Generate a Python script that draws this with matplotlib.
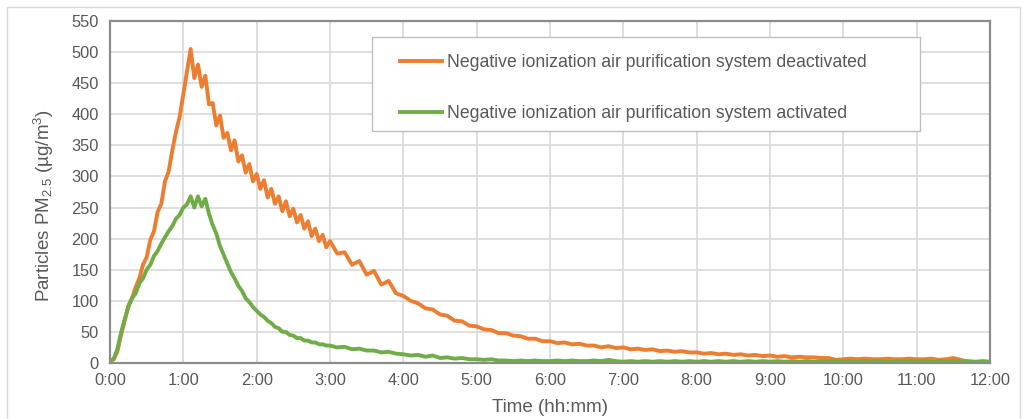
import numpy as np
import matplotlib.pyplot as plt
from matplotlib.patches import Rectangle

plt.rcParams['font.family'] = ['Liberation Sans', 'DejaVu Sans']
plt.rcParams['mathtext.fontset'] = 'custom'
plt.rcParams['mathtext.rm'] = 'Liberation Sans'
plt.rcParams['mathtext.it'] = 'Liberation Sans:italic'

# tiempo en horas: paso de 0.05 h hasta 3:00, luego 0.1 h
t_fine = [round(0.05 * i, 2) for i in range(61)]
t_coarse = [round(3.1 + 0.1 * i, 1) for i in range(90)]

# PM2.5 con el sistema desactivado (naranja)
pm_off_fine = [3, 6, 18, 45, 68, 92, 104, 122, 136, 158, 170, 198, 212, 243, 256,
               292, 308, 342, 372, 396, 432, 468, 505,
               458, 480, 444, 462, 416, 418, 382, 398, 362, 370, 342, 358, 324, 334,
               306, 320, 292, 304, 280, 294, 266, 280, 256, 268, 244, 260, 236, 248,
               226, 238, 216, 228, 204, 216, 196, 206, 186, 196]
pm_off_coarse = [176, 178, 158, 164, 142, 148, 126, 132, 112, 108, 100, 96, 88, 86,
                 78, 76, 68, 67, 60, 59, 54, 53, 48, 48, 44, 43, 39, 39, 35, 35, 32,
                 33, 30, 31, 28, 28, 25, 27, 24, 25, 22, 23, 21, 22, 19, 20, 18, 19,
                 17, 17, 15, 16, 14, 15, 13, 14, 12, 13, 11, 12, 10, 11, 9, 10, 9, 9,
                 8, 8, 5, 6, 7, 6, 7, 6, 6, 7, 6, 6, 7, 6, 6, 7, 5, 6, 8, 5, 2]

# PM2.5 con el sistema activado (verde)
pm_on_fine = [4, 6, 22, 48, 70, 90, 104, 112, 128, 136, 150, 158, 172, 180, 192,
              202, 212, 220, 232, 238, 250, 255, 268, 250, 268, 252, 264, 240, 222,
              208, 188, 174, 160, 146, 136, 124, 116, 104, 98, 90, 84, 78, 74, 68,
              64, 58, 56, 50, 50, 45, 44, 40, 40, 36, 36, 33, 33, 30, 30, 28, 28]
pm_on_coarse = [25, 26, 22, 23, 20, 20, 17, 18, 15, 14, 12, 13, 10, 12, 8, 9, 7, 8,
                6, 6, 5, 6, 4, 4, 3, 4, 3, 4, 3, 3, 4, 3, 4, 3, 3, 4, 3, 5, 3, 2,
                3, 2, 3, 2, 3, 2, 3, 2, 3, 2, 3, 2, 3, 2, 3, 2, 3, 2, 3, 2, 3, 2, 3,
                2, 3, 2, 3, 2, 3, 2, 3, 2, 3, 2, 3, 2, 3, 2, 3, 2, 3, 2, 3, 2, 3, 2,
                3, 2, 3, 2]

t_off = t_fine + t_coarse[:len(pm_off_coarse)]
pm_off = pm_off_fine + pm_off_coarse
t_on = t_fine + t_coarse
pm_on = pm_on_fine + pm_on_coarse

x_labels = ["%d:00" % h for h in range(13)]
label_off = "Negative ionization air purification system deactivated"
label_on = "Negative ionization air purification system activated"

txt = "#595959"
fig = plt.figure(figsize=(10.26, 4.19), dpi=100)
ax = fig.add_axes([0.1072, 0.1337, 0.8577, 0.8162])

fig.patches.append(Rectangle((7 / 1026, -0.1), 1013 / 1026, 1.1 - 7 / 419,
                             transform=fig.transFigure, fill=False,
                             edgecolor="#d9d9d9", linewidth=1.0))

ax.plot(t_off, pm_off, color="#ED7D31", linewidth=2.8, label=label_off)
ax.plot(t_on, pm_on, color="#70AD47", linewidth=2.8, label=label_on)

ax.set_xlim(0, 12)
ax.set_ylim(0, 550)
ax.set_xticks(range(13))
ax.set_xticklabels(x_labels)
ax.set_yticks(range(0, 551, 50))
ax.grid(True, color="#d9d9d9", linewidth=1.2)
ax.set_axisbelow(True)
ax.tick_params(length=0, labelsize=11.8, colors=txt)
ax.tick_params(axis="y", pad=8)
ax.tick_params(axis="x", pad=7)
for s in ax.spines.values():
    s.set_color("#8c8c8c")
    s.set_linewidth(1.6)

ax.set_xlabel("Time (hh:mm)", fontsize=13.5, color=txt, labelpad=8)
ax.set_ylabel("Particles PM$_{2.5}$ (µg/m$^{3}$)", fontsize=13.5, color=txt)
ax.yaxis.set_label_coords(-0.061, 0.46)

# caja de la leyenda
ax.add_patch(Rectangle((0.2977, 0.678), 0.6227, 0.275, transform=ax.transAxes,
                       facecolor="white", edgecolor="#bfbfbf", linewidth=1.0,
                       zorder=3))
leg = ax.legend(loc="upper left", bbox_to_anchor=(0.329, 0.903), fontsize=12.7,
                frameon=False, labelspacing=1.9, handlelength=2.4,
                handletextpad=0.3, borderpad=0, borderaxespad=0)
leg.set_zorder(4)
for t in leg.get_texts():
    t.set_color(txt)

fig.savefig("out.png", dpi=100)
